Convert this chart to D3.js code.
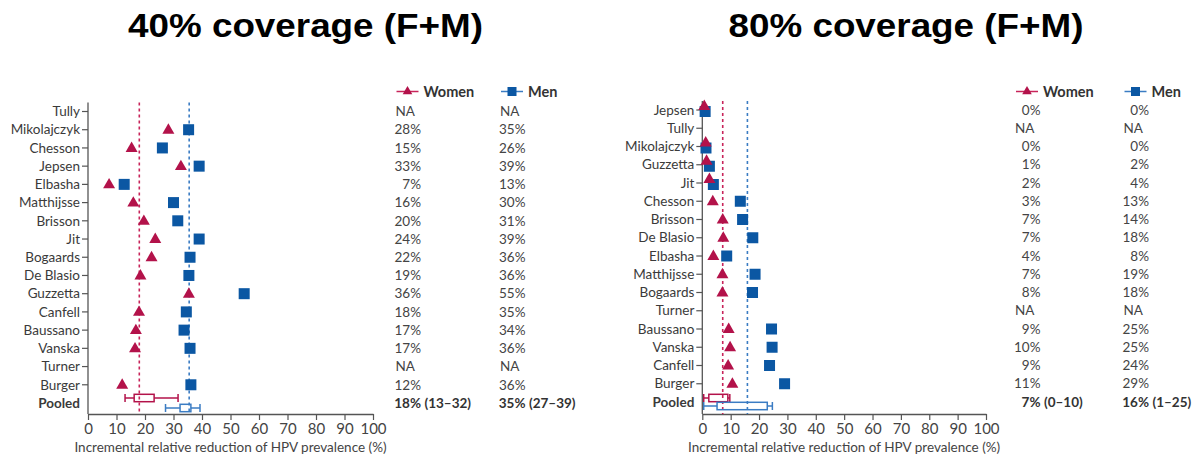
<!DOCTYPE html>
<html>
<head>
<meta charset="utf-8">
<script src="https://cdn.jsdelivr.net/npm/d3@7"></script>
<style>
  html, body { margin: 0; padding: 0; background: #fff; }
  svg { display: block; }
</style>
</head>
<body>
<svg id="chart" width="1197" height="457"></svg>
<script>
// ---------- DATA ----------
const ticks = [0, 10, 20, 30, 40, 50, 60, 70, 80, 90, 100];

const studies40 = ["Tully","Mikolajczyk","Chesson","Jepsen","Elbasha","Matthijsse","Brisson","Jit","Bogaards","De Blasio","Guzzetta","Canfell","Baussano","Vanska","Turner","Burger"];
const women40 = [null,28.2,15.3,32.6,7.4,15.9,19.6,23.6,22.3,18.4,35.4,17.9,16.8,16.5,null,12];
const men40 = [null,35.3,26.1,39,12.7,30,31.5,39,35.8,35.4,54.8,34.5,33.7,35.8,null,36.1];
const womenText40 = ["NA","28%","15%","33%","7%","16%","20%","24%","22%","19%","36%","18%","17%","17%","NA","12%"];
const menText40 = ["NA","35%","26%","39%","13%","30%","31%","39%","36%","36%","55%","35%","34%","36%","NA","36%"];
const pooledWomen40 = [13, 16.2, 18, 23.2, 31.6];   // low, q1, median, q3, high
const pooledMen40 = [27.2, 32.3, 35.5, 36.1, 39.3];
const pooledText40 = [["18%", "(13–32)"], ["35%", "(27–39)"]];

const studies80 = ["Jepsen","Tully","Mikolajczyk","Guzzetta","Jit","Chesson","Brisson","De Blasio","Elbasha","Matthijsse","Bogaards","Turner","Baussano","Vanska","Canfell","Burger"];
const women80 = [0.7,null,1.2,1.5,2.5,3.7,7.2,7.4,3.9,7.1,7.1,null,9.3,9.8,9.1,10.6];
const men80 = [1.0,null,1.3,2.5,3.9,13.4,14.2,17.8,8.6,18.6,17.7,null,24.4,24.6,23.7,29];
const womenText80 = ["0%","NA","0%","1%","2%","3%","7%","7%","4%","7%","8%","NA","9%","10%","9%","11%"];
const menText80 = ["0%","NA","0%","2%","4%","13%","14%","18%","8%","19%","18%","NA","25%","25%","24%","29%"];
const pooledWomen80 = [0.5, 2.3, 7.2, 9.0, 9.7];
const pooledMen80 = [0.5, 5.2, 15.9, 22.9, 24.7];
const pooledText80 = [["7%", "(0–10)"], ["16%", "(1–25)"]];

const titles = ["40% coverage (F+M)", "80% coverage (F+M)"];
const seriesNames = ["Women", "Men"];
const axisTitle = "Incremental relative reduction of HPV prevalence (%)";

// ---------- STYLE ----------
const RED = "#b3124a", RED_LINE = "#c8245a";
const BLUE = "#0b57a3", BLUE_LINE = "#3b7cc3";
const FONT = "Lato, 'Open Sans', sans-serif";
const TXT = "#3a3a3a";

const svg = d3.select("#chart");

function drawPanel(cfg) {
  const g = svg.append("g");
  const x = d3.scaleLinear().domain([0, 100]).range([cfg.x0, cfg.x1]);
  const rows = cfg.studies.concat(["Pooled"]);
  const y = d3.scalePoint().domain(rows).range([cfg.yTop, cfg.yBottom]);
  const axisY = 414;

  // title
  g.append("text")
    .attr("x", cfg.titleX).attr("y", 37)
    .attr("text-anchor", "middle")
    .attr("font-family", "'Liberation Sans', Arial, sans-serif")
    .attr("font-weight", "bold")
    .attr("font-size", 34)
    .attr("textLength", 355)
    .attr("lengthAdjust", "spacingAndGlyphs")
    .attr("fill", "#000")
    .text(cfg.title);

  // x axis
  const xAxis = g.append("g")
    .attr("transform", `translate(0,${axisY})`)
    .call(d3.axisBottom(x).tickValues(ticks).tickSize(6).tickSizeOuter(0).tickPadding(3));
  xAxis.select(".domain").attr("stroke", "#555").attr("stroke-width", 1.3);
  xAxis.selectAll(".tick line").attr("stroke", "#555").attr("stroke-width", 1.2);
  xAxis.selectAll(".tick text")
    .attr("font-family", FONT).attr("font-size", 15).attr("fill", "#444");

  // y axis (vertical line + ticks for studies)
  g.append("line")
    .attr("x1", cfg.x0).attr("x2", cfg.x0)
    .attr("y1", cfg.yTop - 9).attr("y2", axisY)
    .attr("stroke", "#555").attr("stroke-width", 1.3);
  g.selectAll(".ytick").data(cfg.studies).enter().append("line")
    .attr("x1", cfg.x0 - 6).attr("x2", cfg.x0)
    .attr("y1", d => y(d)).attr("y2", d => y(d))
    .attr("stroke", "#555").attr("stroke-width", 1.2);
  g.selectAll(".ylab").data(rows).enter().append("text")
    .attr("x", cfg.x0 - 8).attr("y", d => y(d))
    .attr("dy", "0.35em")
    .attr("text-anchor", "end")
    .attr("font-family", FONT).attr("font-size", 13.5)
    .attr("font-weight", d => d === "Pooled" ? "bold" : "normal")
    .attr("fill", TXT)
    .text(d => d);

  // axis title
  g.append("text")
    .attr("x", (cfg.x0 + cfg.x1) / 2).attr("y", 452)
    .attr("text-anchor", "middle")
    .attr("font-family", FONT).attr("font-size", 13.5).attr("fill", "#444")
    .text(axisTitle);

  // reference dashed lines at pooled medians
  [[cfg.pooledW[2], RED_LINE], [cfg.pooledM[2], BLUE_LINE]].forEach(([v, c]) => {
    g.append("line")
      .attr("x1", x(v)).attr("x2", x(v))
      .attr("y1", cfg.yTop - 9).attr("y2", axisY)
      .attr("stroke", c).attr("stroke-width", 1.6)
      .attr("stroke-dasharray", "3,3");
  });

  // markers
  const pts = cfg.studies.map((s, i) => ({ s, w: cfg.women[i], m: cfg.men[i] }))
    .filter(d => d.w !== null);
  const close = d => Math.abs(x(d.w) - x(d.m)) < 10;

  g.selectAll(".sq").data(pts).enter().append("rect")
    .attr("x", d => x(d.m) - 5.5)
    .attr("y", d => y(d.s) - 5.5 + (close(d) ? 1.5 : 0))
    .attr("width", 11).attr("height", 11)
    .attr("fill", BLUE);

  const tri = d3.symbol().type(d3.symbolTriangle).size(62);
  g.selectAll(".tri").data(pts).enter().append("path")
    .attr("d", tri)
    .attr("transform", d => `translate(${x(d.w)},${y(d.s) + 0.5 - (close(d) ? 4 : 0)})`)
    .attr("fill", RED);

  // pooled boxes
  const yp = y("Pooled");
  [[cfg.pooledW, RED, yp - cfg.pOff], [cfg.pooledM, BLUE_LINE, yp + cfg.pOff]].forEach(([p, c, yy]) => {
    const [lo, q1, med, q3, hi] = p;
    g.append("line").attr("x1", x(lo)).attr("x2", x(q1)).attr("y1", yy).attr("y2", yy)
      .attr("stroke", c).attr("stroke-width", 1.5);
    g.append("line").attr("x1", x(q3)).attr("x2", x(hi)).attr("y1", yy).attr("y2", yy)
      .attr("stroke", c).attr("stroke-width", 1.5);
    [lo, hi].forEach(v => g.append("line")
      .attr("x1", x(v)).attr("x2", x(v)).attr("y1", yy - 4).attr("y2", yy + 4)
      .attr("stroke", c).attr("stroke-width", 1.5));
    g.append("rect")
      .attr("x", x(q1)).attr("y", yy - 3.7)
      .attr("width", x(q3) - x(q1)).attr("height", 7.4)
      .attr("fill", "none").attr("stroke", c).attr("stroke-width", 1.5);
  });

  // legend + value columns
  const cols = [
    { x: cfg.colW, texts: cfg.womenText, pooled: cfg.pooledText[0], color: RED_LINE, mark: "tri", name: seriesNames[0] },
    { x: cfg.colM, texts: cfg.menText, pooled: cfg.pooledText[1], color: BLUE_LINE, mark: "sq", name: seriesNames[1] }
  ];
  cols.forEach(col => {
    const ly = 91.5;
    g.append("line").attr("x1", col.x + 1).attr("x2", col.x + 23).attr("y1", ly).attr("y2", ly)
      .attr("stroke", col.color).attr("stroke-width", 1.5);
    if (col.mark === "tri") {
      g.append("path").attr("d", d3.symbol().type(d3.symbolTriangle).size(40))
        .attr("transform", `translate(${col.x + 12},${ly})`).attr("fill", RED);
    } else {
      g.append("rect").attr("x", col.x + 12 - 4.5).attr("y", ly - 4.5)
        .attr("width", 9).attr("height", 9).attr("fill", BLUE);
    }
    g.append("text").attr("x", col.x + 28).attr("y", ly).attr("dy", "0.35em")
      .attr("font-family", FONT).attr("font-size", 14.5).attr("font-weight", "bold")
      .attr("fill", "#333").text(col.name);

    const endX = col.x + 25.5;
    g.selectAll(null).data(cfg.studies.map((s, i) => ({ s, t: col.texts[i] }))).enter()
      .append("text")
      .attr("x", d => d.t === "NA" ? col.x : endX)
      .attr("y", d => y(d.s)).attr("dy", "0.35em")
      .attr("text-anchor", d => d.t === "NA" ? "start" : "end")
      .attr("font-family", FONT).attr("font-size", 13.5).attr("fill", "#444")
      .text(d => d.t);
    g.append("text").attr("x", endX).attr("y", yp).attr("dy", "0.35em")
      .attr("text-anchor", "end")
      .attr("font-family", FONT).attr("font-size", 13.5).attr("font-weight", "bold")
      .attr("fill", "#333").text(col.pooled[0]);
    g.append("text").attr("x", endX + 3.5).attr("y", yp).attr("dy", "0.35em")
      .attr("font-family", FONT).attr("font-size", 13.5).attr("font-weight", "bold")
      .attr("fill", "#333").text(col.pooled[1]);
  });
}

drawPanel({
  title: titles[0], titleX: 305.5,
  x0: 88, x1: 373, yTop: 111.5, yBottom: 403,
  studies: studies40, women: women40, men: men40,
  womenText: womenText40, menText: menText40,
  pooledW: pooledWomen40, pooledM: pooledMen40, pooledText: pooledText40,
  colW: 395.5, colM: 500, pOff: 5
});

drawPanel({
  title: titles[1], titleX: 906,
  x0: 702.3, x1: 986, yTop: 110, yBottom: 402,
  studies: studies80, women: women80, men: men80,
  womenText: womenText80, menText: menText80,
  pooledW: pooledWomen80, pooledM: pooledMen80, pooledText: pooledText80,
  colW: 1015, colM: 1123.5, pOff: 4
});
</script>
</body>
</html>
